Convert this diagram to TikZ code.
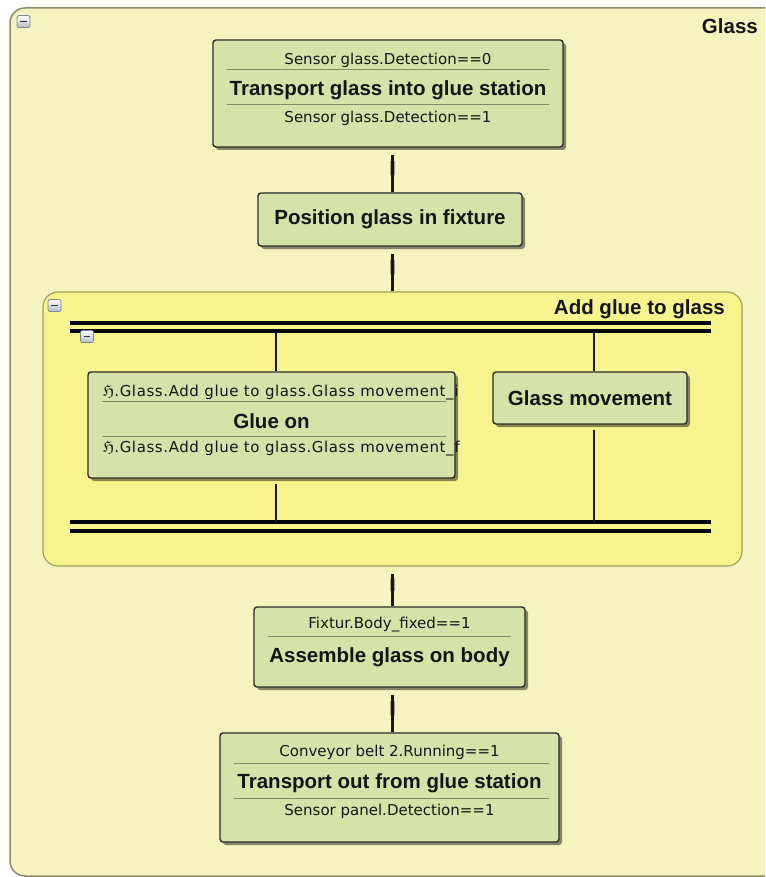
\documentclass[tikz,border=0pt]{standalone}
\usepackage{fontspec}
\setmainfont{Liberation Sans}
\newfontfamily\condfamily{DejaVu Sans}
\newfontfamily\widecondfamily{DejaVu Sans}[LetterSpace=4]
\usetikzlibrary{calc,shadows}

\definecolor{outerfill}{HTML}{F5F3BE}
\definecolor{outerline}{HTML}{8C8C6C}
\definecolor{groupfill}{HTML}{F7F48E}
\definecolor{groupline}{HTML}{A3A05A}
\definecolor{stepfill}{HTML}{D5E3A8}
\definecolor{stepline}{HTML}{2B2B2B}
\definecolor{sepline}{HTML}{7E8C6A}
\definecolor{inkcol}{HTML}{151515}
\definecolor{iconline}{HTML}{7A8494}
\definecolor{iconshade}{HTML}{B4BBC8}

\tikzset{
  outerframe/.style={draw=outerline, line width=1.5pt, fill=outerfill,
    rounded corners=15pt, inner sep=0pt},
  groupframe/.style={draw=groupline, line width=1.2pt, fill=groupfill,
    rounded corners=15pt, inner sep=0pt},
  stepbox/.style={draw=stepline, line width=1.4pt, fill=stepfill,
    rounded corners=3pt, inner sep=0pt,
    drop shadow={shadow xshift=3pt, shadow yshift=-3pt, fill=black, opacity=0.45}},
  cond/.style={font=\condfamily\fontsize{15}{18}\selectfont, text=inkcol, inner sep=0pt},
  widecond/.style={font=\widecondfamily\fontsize{15}{18}\selectfont, text=inkcol, inner sep=0pt},
  ttl/.style={font=\bfseries\fontsize{20.5}{24}\selectfont, text=inkcol, inner sep=0pt},
  sep/.style={draw=sepline, line width=0.9pt},
  syncbar/.style={line width=4pt, draw=black},
  link/.style={line width=2.4pt, draw=inkcol},
  tick/.style={line width=3.8pt, draw=inkcol},
  foldicon/.style={draw=iconline, line width=0.8pt, rounded corners=2pt,
    top color=white, bottom color=iconshade, minimum width=13pt,
    minimum height=12pt, inner sep=0pt,
    path picture={\draw[line width=1.8pt, draw=black!80]
      ($(path picture bounding box.west)+(3.2,0)$) --
      ($(path picture bounding box.east)+(-3.2,0)$);}},
}

\begin{document}
\begin{tikzpicture}[x=1pt, y=-1pt]
\useasboundingbox (0,0) rectangle (765,877);
\clip (0,0) rectangle (765,877);
\fill[white] (0,0) rectangle (765,877);

% outer sequence "Glass"
\node[outerframe, minimum width=780pt, minimum height=868pt] (glass) at (400,442) {};
\node[ttl, anchor=east] (glasstitle) at (758,26) {Glass};
\node[foldicon] (glassfold) at (23.5,21.5) {};

% step 1
\node[stepbox, minimum width=350pt, minimum height=107pt] (b1) at (388,93.5) {};
\node[cond] (b1pre) at ($(b1.north)+(0,21)$) {Sensor glass.Detection==0};
\draw[sep] ($(b1.north west)+(15,30)$) -- ($(b1.north east)+(-15,30)$);
\node[ttl] (b1name) at ($(b1.north)+(0,51)$) {Transport glass into glue station};
\draw[sep] ($(b1.north west)+(15,65)$) -- ($(b1.north east)+(-15,65)$);
\node[cond] (b1post) at ($(b1.north)+(0,79)$) {Sensor glass.Detection==1};

% step 2
\node[stepbox, minimum width=264pt, minimum height=53pt] (b2) at (390,219.5) {};
\node[ttl] (b2name) at (b2.center) {Position glass in fixture};

% parallel group "Add glue to glass"
\node[groupframe, minimum width=699pt, minimum height=274pt] (grp) at (392.5,429) {};
\node[ttl, anchor=east] (grptitle) at (725,309) {Add glue to glass};
\node[foldicon] (grpfold) at (54.5,305.5) {};

\coordinate (forkL) at (70,323);
\coordinate (forkR) at (711,323);
\coordinate (joinL) at (70,531);
\coordinate (joinR) at (711,531);
\draw[syncbar] (forkL) -- (forkR);
\draw[syncbar] ($(forkL)+(0,8)$) -- ($(forkR)+(0,8)$);
\draw[syncbar] ($(joinL)+(0,-9)$) -- ($(joinR)+(0,-9)$);
\draw[syncbar] (joinL) -- (joinR);
\node[foldicon] (parfold) at (87,336.5) {};

% branch: glue on
\node[stepbox, minimum width=367pt, minimum height=106pt] (gl) at (271.5,425) {};
\node[widecond] (glpre) at ($(gl.north west)+(15,21)$) [anchor=west]
  {ℌ.Glass.Add glue to glass.Glass movement\_i};
\draw[sep] ($(gl.north west)+(15,30)$) -- ($(gl.north east)+(-10,30)$);
\node[ttl] (glname) at ($(gl.north)+(0,50)$) {Glue on};
\draw[sep] ($(gl.north west)+(15,65)$) -- ($(gl.north east)+(-10,65)$);
\node[widecond] (glpost) at ($(gl.north west)+(15,77)$) [anchor=west]
  {ℌ.Glass.Add glue to glass.Glass movement\_f};

% branch: glass movement
\node[stepbox, minimum width=194pt, minimum height=52pt] (gm) at (590,398) {};
\node[ttl] (gmname) at (gm.center) {Glass movement};

\coordinate (brL) at (276,333);
\coordinate (brR) at (594,333);
\draw[link] (brL) -- (brL |- gl.north);
\draw[link] (brR) -- (brR |- gm.north);
\draw[link, shorten <=5pt] (brL |- gl.south) -- ($(brL |- joinL)+(0,-9)$);
\draw[link, shorten <=5pt] (brR |- gm.south) -- ($(brR |- joinL)+(0,-9)$);

% step 4
\node[stepbox, minimum width=271pt, minimum height=80pt] (b4) at (389.5,647) {};
\node[cond] (b4pre) at ($(b4.north)+(0,18)$) {Fixtur.Body\_fixed==1};
\draw[sep] ($(b4.north west)+(15,30)$) -- ($(b4.north east)+(-15,30)$);
\node[ttl] (b4name) at ($(b4.north)+(0,51)$) {Assemble glass on body};

% step 5
\node[stepbox, minimum width=339pt, minimum height=109pt] (b5) at (389.5,787.5) {};
\node[cond] (b5pre) at ($(b5.north)+(0,20)$) {Conveyor belt 2.Running==1};
\draw[sep] ($(b5.north west)+(15,31)$) -- ($(b5.north east)+(-11,31)$);
\node[ttl] (b5name) at ($(b5.north)+(0,51)$) {Transport out from glue station};
\draw[sep] ($(b5.north west)+(15,66)$) -- ($(b5.north east)+(-11,66)$);
\node[cond] (b5post) at ($(b5.north)+(0,79)$) {Sensor panel.Detection==1};

% transitions between the sequential steps
\foreach \from/\to in {b1/b2, b2/grp, grp/b4, b4/b5}{
  \draw[link, shorten <=7pt] (\from.south -| grp.north) -- (\to.north -| grp.north);
  \draw[tick] ($(\from.south -| grp.north)!0.3!(\to.north -| grp.north)$) --
              ($(\from.south -| grp.north)!0.62!(\to.north -| grp.north)$);
}
\end{tikzpicture}
\end{document}
